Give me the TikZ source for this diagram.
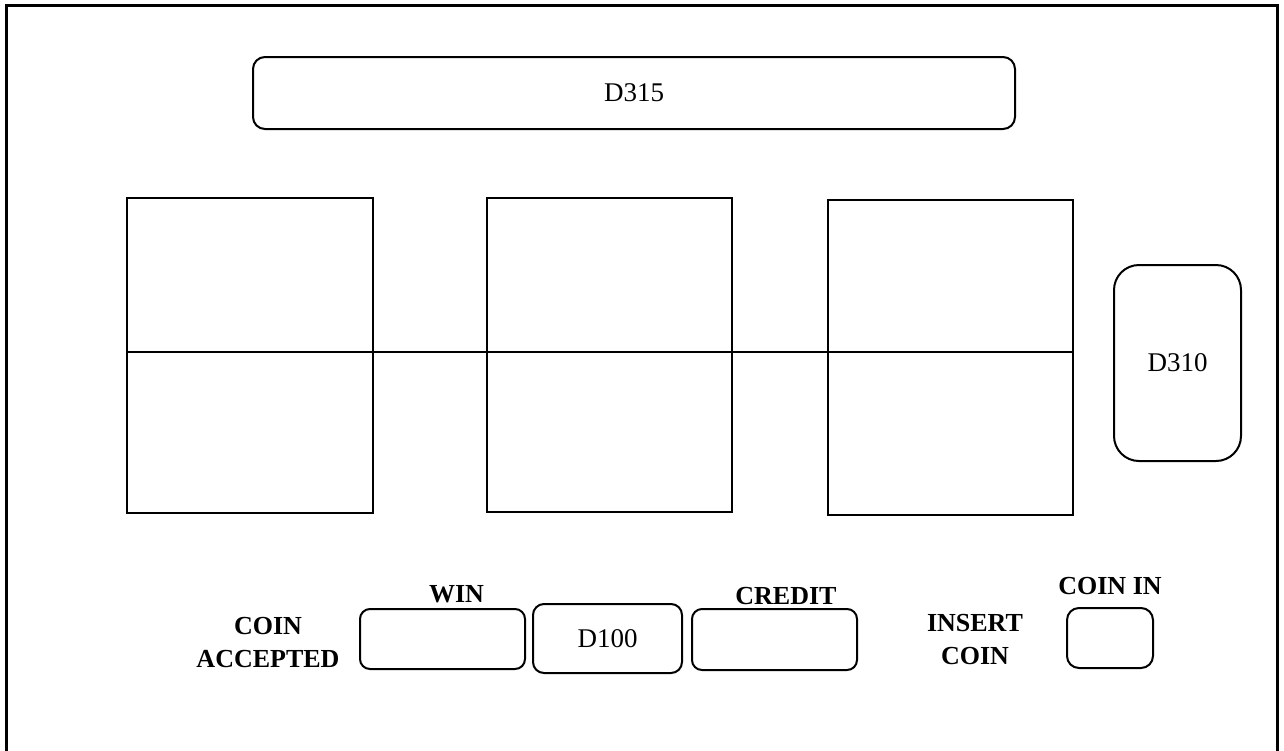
\documentclass[tikz,border=0pt]{standalone}
\usepackage{fontspec}
\setmainfont{Liberation Serif}
\begin{document}
\begin{tikzpicture}[x=0.5pt,y=-0.5pt,
  reel/.style={draw, line width=1pt, inner sep=0pt},
  lbl/.style={font=\fontsize{13}{16.5}\selectfont\bfseries, align=center, inner sep=0pt},
  txt/.style={font=\fontsize{13.5}{16}\selectfont}]
\useasboundingbox (0,0) rectangle (1284,750);
\clip (0,0) rectangle (1284,750);
\draw[line width=1.5pt] (6.5,5.5) rectangle (1277.5,770);
% top display
\node[reel, rounded corners=6pt, minimum width=381pt, minimum height=36pt, txt] (d315) at (634,93) {D315};
% reels
\node[reel, minimum width=123pt, minimum height=157.5pt] (r1) at (250,355.5) {};
\node[reel, minimum width=122.5pt, minimum height=157pt] (r2) at (609.5,355) {};
\node[reel, minimum width=122.5pt, minimum height=157.5pt] (r3) at (950.5,357.5) {};
\coordinate (hl) at (127,352);
\coordinate (hr) at (1073,352);
\draw[line width=1pt] (hl) -- (hr);
% D310
\node[reel, rounded corners=12.5pt, minimum width=63.5pt, minimum height=98pt, txt] (d310) at (1177.5,363) {D310};
% bottom row
\node[reel, rounded corners=5pt, minimum width=82.5pt, minimum height=30pt] (win) at (442.5,639) {};
\node[reel, rounded corners=5.5pt, minimum width=74.5pt, minimum height=34.5pt, txt] (d100) at (607.5,638.5) {D100};
\node[reel, rounded corners=5pt, minimum width=82.5pt, minimum height=30.5pt] (credit) at (774.5,639.5) {};
\node[reel, rounded corners=6pt, minimum width=43pt, minimum height=30pt] (coinin) at (1110,638) {};
% labels
\node[lbl] (winl) at (456.5,594) {WIN};
\node[lbl] (creditl) at (786,596) {CREDIT};
\node[lbl] (coininl) at (1110,586) {COIN IN};
\node[lbl] (insert) at (975,640) {INSERT\\COIN};
\node[lbl] (accepted) at (268,643) {COIN\\ACCEPTED};
\end{tikzpicture}
\end{document}
